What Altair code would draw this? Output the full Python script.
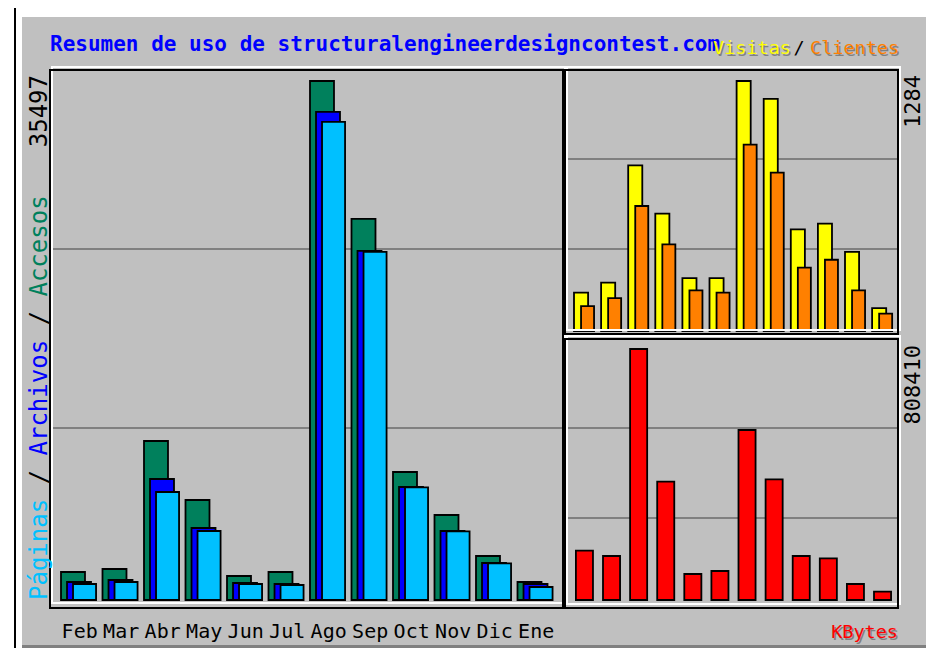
import altair as alt
import pandas as pd

meses = ["Feb", "Mar", "Abr", "May", "Jun", "Jul", "Ago", "Sep", "Oct", "Nov", "Dic", "Ene"]
accesos = [1915, 2120, 10875, 6840, 1641, 1915, 35497, 26060, 8755, 5814, 3010, 1231]
archivos = [1231, 1368, 8276, 4925, 1163, 1094, 33378, 23871, 7729, 4720, 2531, 1094]
paginas = [1094, 1231, 7387, 4720, 1094, 1026, 32694, 23803, 7700, 4700, 2500, 889]
visitas = [197, 248, 851, 603, 272, 272, 1284, 1192, 522, 551, 406, 118]
clientes = [128, 169, 642, 445, 209, 197, 957, 813, 325, 366, 209, 89]
kbytes = [158900, 141700, 808410, 381100, 83750, 93400, 547600, 388700, 141700, 134200, 51540, 26840]

grid_main = [11763, 24005]
grid_visitas = [421, 883]
grid_kbytes = [264100, 554000]

titulo = "Resumen de uso de structuralengineerdesigncontest.com"
max_main = "35497"
max_visitas = "1284"
max_kbytes = "808410"

df = pd.DataFrame({
    "mes": meses, "i": list(range(len(meses))),
    "accesos": accesos, "archivos": archivos, "paginas": paginas,
    "visitas": visitas, "clientes": clientes, "kbytes": kbytes,
})

BG = "#C0C0C0"
MONO = "DejaVu Sans Mono"

# scales (explicit pixel ranges -> panel layout)
XM = dict(domain=[0, 12], range=[53, 551])
YM = dict(domain=[0, 36248], range=[592, 62])
XR = dict(domain=[0, 12], range=[566, 891.2])
YV = dict(domain=[0, 1340.5], range=[323, 62])
YK = dict(domain=[0, 840630], range=[592, 331])

one = pd.DataFrame({"a": [0]})


def box(x, x2, y, y2, **kw):
    return alt.Chart(one).mark_rect(**kw).encode(
        x=alt.value(x), x2=alt.value(x2), y=alt.value(y), y2=alt.value(y2))


def bars(field, color, off, w, xs, ys):
    return alt.Chart(df).transform_calculate(
        x0=f"datum.i + {off}", x1=f"datum.i + {off + w}"
    ).mark_rect(fill=color, stroke="black", strokeWidth=1.8).encode(
        x=alt.X("x0:Q", scale=alt.Scale(nice=False, zero=False, **xs), axis=None),
        x2="x1:Q",
        y=alt.Y(f"{field}:Q", scale=alt.Scale(nice=False, **ys), axis=None),
        y2=alt.datum(0),
    )


def grid(vals, ys, x1, x2):
    return alt.Chart(pd.DataFrame({"v": vals})).mark_rule(
        color="#808080", strokeWidth=2).encode(
        y=alt.Y("v:Q", scale=alt.Scale(nice=False, **ys), axis=None),
        x=alt.value(x1), x2=alt.value(x2))


def label(txt, x, y, color, size, shadow=True, **kw):
    layers = []
    if shadow:
        layers.append(alt.Chart(one).mark_text(
            text=txt, font=MONO, fontSize=size, color="#808080", **kw).encode(
            x=alt.value(x + 1.5), y=alt.value(y + 1.5)))
    layers.append(alt.Chart(one).mark_text(
        text=txt, font=MONO, fontSize=size, color=color, **kw).encode(
        x=alt.value(x), y=alt.value(y)))
    return layers


layers = [
    box(0, 918, 0, 640, fill="white"),
    box(6, 8, 0, 640, fill="black"),
    box(14, 918, 9, 637, fill=BG),
    box(14, 918, 637, 640, fill="#808080"),
    grid(grid_main, YM, 42, 555),
    grid(grid_visitas, YV, 557, 890),
    grid(grid_kbytes, YK, 557, 890),
    bars("accesos", "#00805C", 0.0, 0.578, XM, YM),
    bars("archivos", "#0000FF", 0.145, 0.578, XM, YM),
    bars("paginas", "#00C0FF", 0.29, 0.555, XM, YM),
    bars("visitas", "#FFFF00", 0.0, 0.52, XR, YV),
    bars("clientes", "#FF8000", 0.26, 0.48, XR, YV),
    bars("kbytes", "#FF0000", 0.07, 0.63, XR, YK),
    # panel bevels
    box(44, 557, 59, 595, fillOpacity=0, stroke="white", strokeWidth=2),
    box(42, 555, 62, 600, fillOpacity=0, stroke="black", strokeWidth=2),
    box(559, 892, 59, 322, fillOpacity=0, stroke="white", strokeWidth=2),
    box(557, 890, 62, 326, fillOpacity=0, stroke="black", strokeWidth=2),
    box(559, 892, 328, 596, fillOpacity=0, stroke="white", strokeWidth=2),
    box(557, 890, 331, 600, fillOpacity=0, stroke="black", strokeWidth=2),
]

# month labels
layers.append(alt.Chart(df).transform_calculate(xc="datum.i + 0.45").mark_text(
    font=MONO, fontSize=20, color="black", baseline="middle").encode(
    x=alt.X("xc:Q", scale=alt.Scale(nice=False, zero=False, **XM), axis=None),
    y=alt.value(624), text="mes:N"))

# title and legends
layers += label(titulo, 42, 37, "#0000FF", 21, shadow=False, fontWeight="bold", align="left", baseline="middle")
layers += label("Visitas", 705, 40, "#FFFF00", 18.5, align="left", baseline="middle")
layers += label("/", 791, 40, "black", 18.5, shadow=False, align="center", baseline="middle")
layers += label("Clientes", 802, 40, "#FF8000", 18.5, align="left", baseline="middle")
layers += label("KBytes", 890, 624, "#FF0000", 18.5, align="right", baseline="middle")

# vertical left legend
cw = 14.45
y0 = 592
layers += label("Páginas", 32, y0, "#00C0FF", 24, shadow=False, angle=270, align="left", baseline="middle")
layers += label("/", 32, y0 - 8 * cw, "black", 24, shadow=False, angle=270, align="left", baseline="middle")
layers += label("Archivos", 32, y0 - 10 * cw, "#0000FF", 24, shadow=False, angle=270, align="left", baseline="middle")
layers += label("/", 32, y0 - 19 * cw, "black", 24, shadow=False, angle=270, align="left", baseline="middle")
layers += label("Accesos", 32, y0 - 21 * cw, "#00805C", 24, shadow=False, angle=270, align="left", baseline="middle")

# max values
layers += label(max_main, 32, 67, "black", 24, shadow=False, angle=270, align="right", baseline="middle")
layers += label(max_visitas, 905, 67, "black", 22, shadow=False, angle=270, align="right", baseline="middle")
layers += label(max_kbytes, 905, 337, "black", 22, shadow=False, angle=270, align="right", baseline="middle")

chart = alt.layer(*layers).resolve_scale(
    x="independent", y="independent"
).properties(
    width=918, height=640, autosize=alt.AutoSizeParams(type="none"), padding=0,
    background="white",
).configure_view(stroke=None)

chart.save("out.html", embed_options={"renderer": "svg", "actions": False})
